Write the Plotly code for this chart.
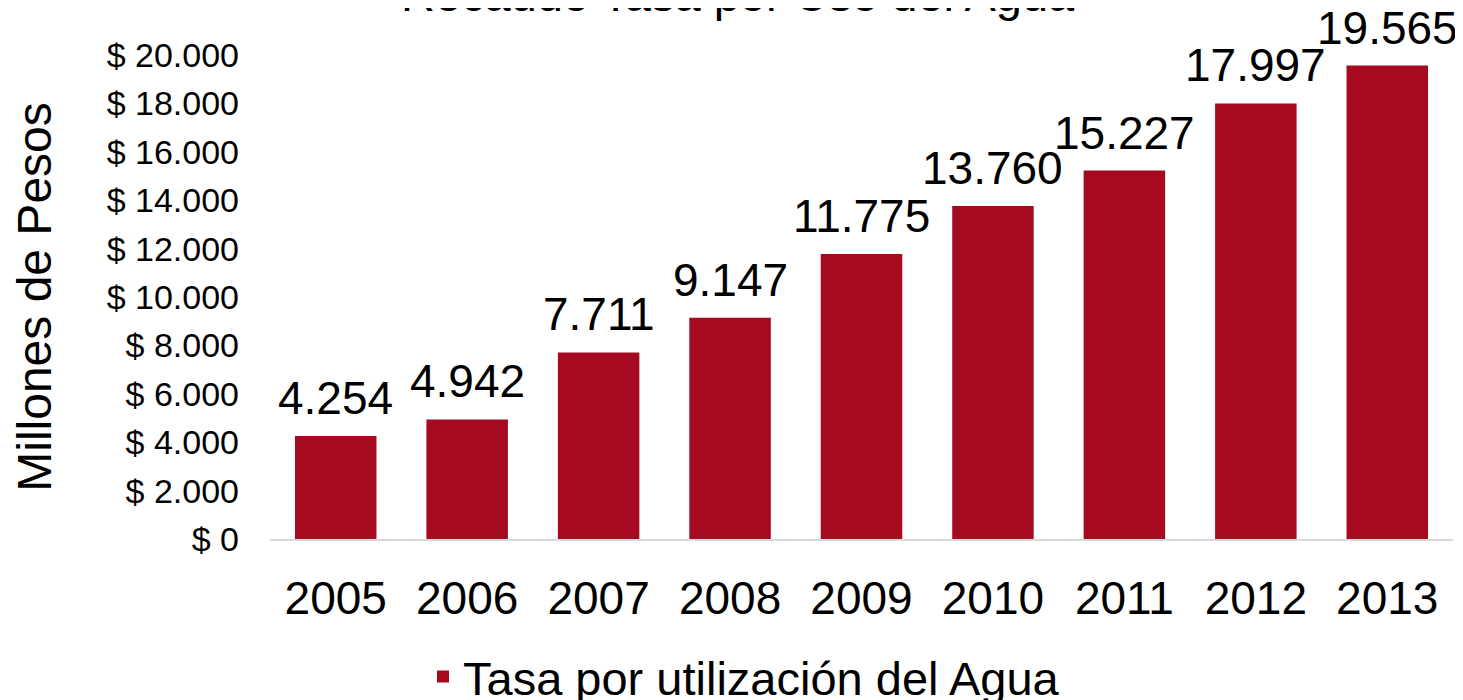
import plotly.graph_objects as go

years = ["2005", "2006", "2007", "2008", "2009", "2010", "2011", "2012", "2013"]
values = [4254, 4942, 7711, 9147, 11775, 13760, 15227, 17997, 19565]
value_labels = ["4.254", "4.942", "7.711", "9.147", "11.775", "13.760", "15.227", "17.997", "19.565"]
tick_vals = [0, 2000, 4000, 6000, 8000, 10000, 12000, 14000, 16000, 18000, 20000]
tick_text = ["$ 0", "$ 2.000", "$ 4.000", "$ 6.000", "$ 8.000", "$ 10.000",
             "$ 12.000", "$ 14.000", "$ 16.000", "$ 18.000", "$ 20.000"]
series_name = "Tasa por utilización del Agua"
title_text = "Recaudo Tasa por Uso del Agua"
y_title = "Millones de Pesos"

FONT = "Liberation Sans, Arial, sans-serif"
BAR = "#A50A20"

fig = go.Figure()
fig.add_trace(go.Bar(
    x=years, y=values, name=series_name,
    marker=dict(color=BAR, line=dict(width=0)),
    cliponaxis=False,
))

annotations = [
    dict(text=title_text, xref="paper", yref="paper", x=0.396, y=1 + 60 / 484,
         xanchor="center", yanchor="middle", showarrow=False,
         font=dict(size=47, family=FONT, color="#000000")),
]
# value labels: category index i on the category axis, value on the y axis
for i, (v, lab) in enumerate(zip(values, value_labels)):
    annotations.append(dict(
        x=i, y=v, xref="x", yref="y", text=lab, showarrow=False,
        xanchor="center", yanchor="bottom", yshift=10,
        font=dict(size=46, family=FONT, color="#000000"),
    ))

fig.update_layout(
    width=1455, height=692,
    margin=dict(l=262, r=10, t=47, b=161, autoexpand=False),
    paper_bgcolor="white", plot_bgcolor="white",
    font=dict(family=FONT, color="#000000"),
    bargap=0.38,
    showlegend=True,
    legend=dict(orientation="h", x=736 / 1455, xref="container", xanchor="center",
                y=-138 / 484, yref="paper", yanchor="middle",
                font=dict(size=47, family=FONT)),
    annotations=annotations,
)

fig.update_xaxes(
    type="category", range=[-0.5, len(years) - 0.5],
    showline=True, linecolor="#D9D9D9", linewidth=2, ticks="",
    tickfont=dict(size=46, family=FONT), ticklabelstandoff=18,
    showgrid=False, automargin=False,
)
fig.update_yaxes(
    range=[0, 20000], tickvals=tick_vals, ticktext=tick_text,
    tickfont=dict(size=34, family=FONT), ticklabelstandoff=30,
    showgrid=False, zeroline=False, showline=False, ticks="",
    automargin=False,
    title=dict(text=y_title, font=dict(size=48, family=FONT), standoff=55),
)

fig.write_html("out.html")
